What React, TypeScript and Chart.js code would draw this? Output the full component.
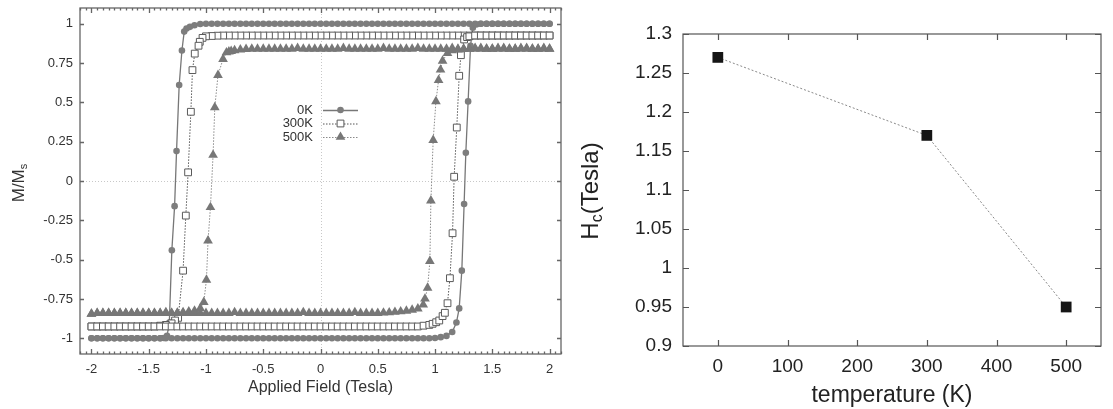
import React, { useEffect, useRef } from 'react';
import { Chart, registerables } from 'chart.js';

Chart.register(...registerables);

const FONT = '"Liberation Sans", Arial, Helvetica, sans-serif';

// ---------------- Left panel: hysteresis loops (Applied Field in Tesla vs M/Ms) ----------------
// 0 K, descending sweep (+2 T -> -2 T)
const desc0KH = [
  2, 1.95, 1.9, 1.85, 1.8, 1.75, 1.7, 1.65, 1.6, 1.55,
  1.5, 1.45, 1.4, 1.35, 1.3, 1.25, 1.2, 1.15, 1.1, 1.05,
  1, 0.95, 0.9, 0.85, 0.8, 0.75, 0.7, 0.65, 0.6, 0.55,
  0.5, 0.45, 0.4, 0.35, 0.3, 0.25, 0.2, 0.15, 0.1, 0.05,
  0, -0.05, -0.1, -0.15, -0.2, -0.25, -0.3, -0.35, -0.4, -0.45,
  -0.5, -0.55, -0.6, -0.65, -0.7, -0.75, -0.8, -0.85, -0.9, -0.95,
  -1, -1.05, -1.1, -1.14, -1.17, -1.19, -1.21, -1.234, -1.257, -1.274,
  -1.298, -1.32, -1.34, -1.37, -1.4, -1.45, -1.5, -1.55, -1.6, -1.65,
  -1.7, -1.75, -1.8, -1.85, -1.9, -1.95, -2,
];
const desc0KM = [
  1, 1, 1, 1, 1, 1, 1, 1, 1, 1,
  1, 1, 1, 1, 1, 1, 1, 1, 1, 1,
  1, 1, 1, 1, 1, 1, 1, 1, 1, 1,
  1, 1, 1, 1, 1, 1, 1, 1, 1, 1,
  1, 1, 1, 1, 1, 1, 1, 1, 1, 1,
  1, 1, 1, 1, 1, 1, 1, 1, 1, 1,
  1, 0.998, 0.99, 0.98, 0.97, 0.95, 0.83, 0.61, 0.19, -0.16,
  -0.44, -0.9, -0.985, -0.998, -1, -1, -1, -1, -1, -1,
  -1, -1, -1, -1, -1, -1, -1,
];
// 0 K, ascending sweep (-2 T -> +2 T)
const asc0KH = [
  -2, -1.95, -1.9, -1.85, -1.8, -1.75, -1.7, -1.65, -1.6, -1.55,
  -1.5, -1.45, -1.4, -1.35, -1.3, -1.25, -1.2, -1.15, -1.1, -1.05,
  -1, -0.95, -0.9, -0.85, -0.8, -0.75, -0.7, -0.65, -0.6, -0.55,
  -0.5, -0.45, -0.4, -0.35, -0.3, -0.25, -0.2, -0.15, -0.1, -0.05,
  0, 0.05, 0.1, 0.15, 0.2, 0.25, 0.3, 0.35, 0.4, 0.45,
  0.5, 0.55, 0.6, 0.65, 0.7, 0.75, 0.8, 0.85, 0.9, 0.95,
  1, 1.05, 1.1, 1.15, 1.187, 1.211, 1.234, 1.254, 1.269, 1.289,
  1.31, 1.33, 1.36, 1.4, 1.45, 1.5, 1.55, 1.6, 1.65, 1.7,
  1.75, 1.8, 1.85, 1.9, 1.95, 2,
];
const asc0KM = [
  -1, -1, -1, -1, -1, -1, -1, -1, -1, -1,
  -1, -1, -1, -1, -1, -1, -1, -1, -1, -1,
  -1, -1, -1, -1, -1, -1, -1, -1, -1, -1,
  -1, -1, -1, -1, -1, -1, -1, -1, -1, -1,
  -1, -1, -1, -1, -1, -1, -1, -1, -1, -1,
  -1, -1, -1, -1, -1, -1, -1, -1, -1, -1,
  -0.998, -0.993, -0.985, -0.96, -0.9, -0.81, -0.57, -0.146, 0.18, 0.506,
  0.86, 0.975, 0.995, 1, 1, 1, 1, 1, 1, 1,
  1, 1, 1, 1, 1, 1,
];

// 300 K
const desc300KH = [
  2, 1.95, 1.9, 1.85, 1.8, 1.75, 1.7, 1.65, 1.6, 1.55,
  1.5, 1.45, 1.4, 1.35, 1.3, 1.25, 1.2, 1.15, 1.1, 1.05,
  1, 0.95, 0.9, 0.85, 0.8, 0.75, 0.7, 0.65, 0.6, 0.55,
  0.5, 0.45, 0.4, 0.35, 0.3, 0.25, 0.2, 0.15, 0.1, 0.05,
  0, -0.05, -0.1, -0.15, -0.2, -0.25, -0.3, -0.35, -0.4, -0.45,
  -0.5, -0.55, -0.6, -0.65, -0.7, -0.75, -0.8, -0.85, -0.9, -0.95,
  -1, -1.03, -1.054, -1.065, -1.098, -1.118, -1.132, -1.156, -1.176, -1.2,
  -1.243, -1.27, -1.3, -1.35, -1.4, -1.45, -1.5, -1.55, -1.6, -1.65,
  -1.7, -1.75, -1.8, -1.85, -1.9, -1.95, -2,
];
const desc300KM = [
  0.925, 0.925, 0.925, 0.925, 0.925, 0.925, 0.925, 0.925, 0.925, 0.925,
  0.925, 0.925, 0.925, 0.925, 0.925, 0.925, 0.925, 0.925, 0.925, 0.925,
  0.925, 0.925, 0.925, 0.925, 0.925, 0.925, 0.925, 0.925, 0.925, 0.925,
  0.925, 0.925, 0.925, 0.925, 0.925, 0.925, 0.925, 0.925, 0.925, 0.925,
  0.925, 0.925, 0.925, 0.925, 0.925, 0.925, 0.925, 0.925, 0.925, 0.925,
  0.925, 0.925, 0.925, 0.925, 0.925, 0.925, 0.925, 0.925, 0.924, 0.922,
  0.92, 0.91, 0.885, 0.86, 0.81, 0.705, 0.44, 0.055, -0.22, -0.57,
  -0.87, -0.887, -0.905, -0.915, -0.92, -0.925, -0.925, -0.925, -0.925, -0.925,
  -0.925, -0.925, -0.925, -0.925, -0.925, -0.925, -0.925,
];
const asc300KH = [
  -2, -1.95, -1.9, -1.85, -1.8, -1.75, -1.7, -1.65, -1.6, -1.55,
  -1.5, -1.45, -1.4, -1.35, -1.3, -1.25, -1.2, -1.15, -1.1, -1.05,
  -1, -0.95, -0.9, -0.85, -0.8, -0.75, -0.7, -0.65, -0.6, -0.55,
  -0.5, -0.45, -0.4, -0.35, -0.3, -0.25, -0.2, -0.15, -0.1, -0.05,
  0, 0.05, 0.1, 0.15, 0.2, 0.25, 0.3, 0.35, 0.4, 0.45,
  0.5, 0.55, 0.6, 0.65, 0.7, 0.75, 0.8, 0.85, 0.9, 0.95,
  0.979, 1.01, 1.037, 1.066, 1.086, 1.109, 1.13, 1.153, 1.167, 1.19,
  1.211, 1.226, 1.254, 1.28, 1.3, 1.35, 1.4, 1.45, 1.5, 1.55,
  1.6, 1.65, 1.7, 1.75, 1.8, 1.85, 1.9, 1.95, 2,
];
const asc300KM = [
  -0.925, -0.925, -0.925, -0.925, -0.925, -0.925, -0.925, -0.925, -0.925, -0.925,
  -0.925, -0.925, -0.925, -0.925, -0.925, -0.925, -0.925, -0.925, -0.925, -0.925,
  -0.925, -0.925, -0.925, -0.925, -0.925, -0.925, -0.925, -0.925, -0.925, -0.925,
  -0.925, -0.925, -0.925, -0.925, -0.925, -0.925, -0.925, -0.925, -0.925, -0.925,
  -0.925, -0.925, -0.925, -0.925, -0.925, -0.925, -0.925, -0.925, -0.925, -0.925,
  -0.925, -0.925, -0.925, -0.925, -0.925, -0.925, -0.925, -0.925, -0.92, -0.915,
  -0.908, -0.898, -0.887, -0.859, -0.838, -0.777, -0.618, -0.332, 0.027, 0.34,
  0.669, 0.8, 0.9, 0.915, 0.92, 0.925, 0.925, 0.925, 0.925, 0.925,
  0.925, 0.925, 0.925, 0.925, 0.925, 0.925, 0.925, 0.925, 0.925,
];

// 500 K
const desc500KH = [
  2, 1.95, 1.9, 1.85, 1.8, 1.75, 1.7, 1.65, 1.6, 1.55,
  1.5, 1.45, 1.4, 1.35, 1.3, 1.25, 1.2, 1.15, 1.1, 1.05,
  1, 0.95, 0.9, 0.85, 0.8, 0.75, 0.7, 0.65, 0.6, 0.55,
  0.5, 0.45, 0.4, 0.35, 0.3, 0.25, 0.2, 0.15, 0.1, 0.05,
  0, -0.05, -0.1, -0.15, -0.2, -0.25, -0.3, -0.35, -0.4, -0.45,
  -0.5, -0.55, -0.6, -0.65, -0.7, -0.75, -0.78, -0.8, -0.821, -0.851,
  -0.895, -0.923, -0.938, -0.961, -0.982, -0.996, -1.019, -1.05, -1.1, -1.15,
  -1.2, -1.25, -1.3, -1.35, -1.4, -1.45, -1.5, -1.55, -1.6, -1.65,
  -1.7, -1.75, -1.8, -1.85, -1.9, -1.95, -2,
];
const desc500KM = [
  0.84, 0.845, 0.84, 0.84, 0.845, 0.84, 0.84, 0.84, 0.845, 0.84,
  0.84, 0.84, 0.845, 0.84, 0.84, 0.84, 0.84, 0.845, 0.84, 0.84,
  0.84, 0.84, 0.84, 0.845, 0.84, 0.84, 0.84, 0.84, 0.84, 0.845,
  0.84, 0.84, 0.84, 0.84, 0.84, 0.84, 0.845, 0.84, 0.84, 0.84,
  0.84, 0.84, 0.84, 0.84, 0.845, 0.84, 0.84, 0.84, 0.84, 0.84,
  0.84, 0.84, 0.84, 0.838, 0.835, 0.83, 0.826, 0.822, 0.817, 0.775,
  0.673, 0.468, 0.165, -0.167, -0.379, -0.629, -0.77, -0.81, -0.825, -0.83,
  -0.835, -0.838, -0.84, -0.84, -0.84, -0.84, -0.84, -0.84, -0.84, -0.84,
  -0.84, -0.84, -0.84, -0.84, -0.84, -0.84, -0.845,
];
const asc500KH = [
  -2, -1.95, -1.9, -1.85, -1.8, -1.75, -1.7, -1.65, -1.6, -1.55,
  -1.5, -1.45, -1.4, -1.35, -1.3, -1.25, -1.2, -1.15, -1.1, -1.05,
  -1, -0.95, -0.9, -0.85, -0.8, -0.75, -0.7, -0.65, -0.6, -0.55,
  -0.5, -0.45, -0.4, -0.35, -0.3, -0.25, -0.2, -0.15, -0.1, -0.05,
  0, 0.05, 0.1, 0.15, 0.2, 0.25, 0.3, 0.35, 0.4, 0.45,
  0.5, 0.55, 0.6, 0.65, 0.7, 0.75, 0.8, 0.85, 0.897, 0.912,
  0.935, 0.955, 0.964, 0.984, 1.008, 1.031, 1.048, 1.066, 1.109, 1.15,
  1.2, 1.25, 1.3, 1.35, 1.4, 1.45, 1.5, 1.55, 1.6, 1.65,
  1.7, 1.75, 1.8, 1.85, 1.9, 1.95, 2,
];
const asc500KM = [
  -0.845, -0.84, -0.84, -0.84, -0.84, -0.84, -0.84, -0.84, -0.84, -0.84,
  -0.84, -0.84, -0.84, -0.835, -0.84, -0.84, -0.84, -0.84, -0.84, -0.84,
  -0.84, -0.84, -0.84, -0.84, -0.84, -0.835, -0.84, -0.84, -0.84, -0.84,
  -0.84, -0.84, -0.84, -0.84, -0.84, -0.84, -0.84, -0.835, -0.84, -0.84,
  -0.84, -0.84, -0.84, -0.84, -0.84, -0.84, -0.835, -0.84, -0.84, -0.84,
  -0.84, -0.838, -0.836, -0.833, -0.83, -0.826, -0.82, -0.812, -0.787, -0.749,
  -0.68, -0.51, -0.125, 0.26, 0.506, 0.641, 0.707, 0.764, 0.813, 0.83,
  0.835, 0.838, 0.84, 0.845, 0.84, 0.84, 0.84, 0.845, 0.84, 0.84,
  0.84, 0.845, 0.84, 0.84, 0.84, 0.84, 0.84,
];

const loopLabels = ['0K', '300K', '500K'];
const leftXTicks = [-2, -1.5, -1, -0.5, 0, 0.5, 1, 1.5, 2];
const leftYTicks = [-1, -0.75, -0.5, -0.25, 0, 0.25, 0.5, 0.75, 1];

// ---------------- Right panel: coercive field vs temperature ----------------
const temperatureK = [0, 300, 500];
const coerciveT = [1.27, 1.17, 0.95];
const rightXTicks = [0, 100, 200, 300, 400, 500];
const rightYTicks = [0.9, 0.95, 1, 1.05, 1.1, 1.15, 1.2, 1.25, 1.3];

const toPoints = (hs: number[], ms: number[]) => hs.map((h, i) => ({ x: h, y: ms[i] }));

function drawMarker(ctx: CanvasRenderingContext2D, style: string, x: number, y: number, r: number, fill: string, stroke: string, bw: number) {
  ctx.save();
  ctx.beginPath();
  if (style === 'circle') {
    ctx.arc(x, y, r, 0, Math.PI * 2);
  } else if (style === 'rect') {
    const s = r * Math.SQRT1_2;
    ctx.rect(x - s, y - s, 2 * s, 2 * s);
  } else if (style === 'triangle') {
    const a = -Math.PI / 2;
    for (let k = 0; k < 3; k++) {
      const ang = a + (k * 2 * Math.PI) / 3;
      const px = x + Math.cos(ang) * r;
      const py = y + Math.sin(ang) * r;
      if (k === 0) ctx.moveTo(px, py);
      else ctx.lineTo(px, py);
    }
    ctx.closePath();
  }
  ctx.fillStyle = fill;
  ctx.fill();
  if (bw > 0) {
    ctx.lineWidth = bw;
    ctx.strokeStyle = stroke;
    ctx.stroke();
  }
  ctx.restore();
}

function drawRotatedSubText(ctx: CanvasRenderingContext2D, x: number, y: number, main: string, sub: string, rest: string, size: number, subSize: number, color: string) {
  ctx.save();
  ctx.translate(x, y);
  ctx.rotate(-Math.PI / 2);
  ctx.fillStyle = color;
  ctx.textBaseline = 'middle';
  ctx.textAlign = 'left';
  ctx.font = `${size}px ${FONT}`;
  const w1 = ctx.measureText(main).width;
  const w3 = ctx.measureText(rest).width;
  ctx.font = `${subSize}px ${FONT}`;
  const w2 = ctx.measureText(sub).width;
  const total = w1 + w2 + w3;
  let cx = -total / 2;
  ctx.font = `${size}px ${FONT}`;
  ctx.fillText(main, cx, 0);
  cx += w1;
  ctx.font = `${subSize}px ${FONT}`;
  ctx.fillText(sub, cx, size * 0.28);
  cx += w2;
  ctx.font = `${size}px ${FONT}`;
  ctx.fillText(rest, cx, 0);
  ctx.restore();
}

type DecoCfg = {
  frameColor: string;
  frameWidth: number;
  xMajor: number[];
  yMajor: number[];
  xMinorStep?: number;
  xMinorRange?: [number, number];
  majorLen: number;
  yLen: number;
  minorLen: number;
  zeroLines: boolean;
};

function makeDecoPlugin(cfg: DecoCfg) {
  return {
    id: 'deco',
    beforeDatasetsDraw(chart: any) {
      if (!cfg.zeroLines) return;
      const { ctx, chartArea: a, scales } = chart;
      const x0 = Math.round(scales.x.getPixelForValue(0)) + 0.5;
      const y0 = Math.round(scales.y.getPixelForValue(0)) + 0.5;
      ctx.save();
      ctx.strokeStyle = '#c8c8c8';
      ctx.lineWidth = 1;
      ctx.setLineDash([1, 2]);
      ctx.beginPath();
      ctx.moveTo(x0, a.top);
      ctx.lineTo(x0, a.bottom);
      ctx.moveTo(a.left, y0);
      ctx.lineTo(a.right, y0);
      ctx.stroke();
      ctx.restore();
    },
    afterDatasetsDraw(chart: any) {
      const { ctx, chartArea: a, scales } = chart;
      ctx.save();
      ctx.strokeStyle = cfg.frameColor;
      ctx.lineWidth = cfg.frameWidth;
      ctx.setLineDash([]);
      ctx.beginPath();
      if (cfg.xMinorStep && cfg.xMinorRange) {
        const [lo, hi] = cfg.xMinorRange;
        const n = Math.round((hi - lo) / cfg.xMinorStep);
        for (let k = 0; k <= n; k++) {
          const v = lo + k * cfg.xMinorStep;
          const px = Math.round(scales.x.getPixelForValue(v)) + 0.5;
          ctx.moveTo(px, a.bottom);
          ctx.lineTo(px, a.bottom - cfg.minorLen);
          ctx.moveTo(px, a.top);
          ctx.lineTo(px, a.top + cfg.minorLen);
        }
      }
      for (const v of cfg.xMajor) {
        const px = Math.round(scales.x.getPixelForValue(v)) + 0.5;
        ctx.moveTo(px, a.bottom);
        ctx.lineTo(px, a.bottom - cfg.majorLen);
        ctx.moveTo(px, a.top);
        ctx.lineTo(px, a.top + cfg.majorLen);
      }
      for (const v of cfg.yMajor) {
        const py = Math.round(scales.y.getPixelForValue(v)) + 0.5;
        ctx.moveTo(a.left, py);
        ctx.lineTo(a.left + cfg.yLen, py);
        ctx.moveTo(a.right, py);
        ctx.lineTo(a.right - cfg.yLen, py);
      }
      ctx.stroke();
      ctx.lineWidth = cfg.frameWidth;
      ctx.strokeRect(a.left, a.top, a.right - a.left, a.bottom - a.top);
      ctx.restore();
    },
  };
}

const leftTextPlugin = {
  id: 'leftText',
  afterDraw(chart: any) {
    const { ctx, chartArea: a } = chart;
    ctx.save();
    ctx.fillStyle = '#333';
    ctx.font = `16px ${FONT}`;
    ctx.textAlign = 'center';
    ctx.textBaseline = 'middle';
    ctx.fillText('Applied Field (Tesla)', (a.left + a.right) / 2, 388);
    ctx.restore();
    drawRotatedSubText(ctx, 19, 183, 'M/M', 's', '', 17, 11, '#333');

    // legend
    const ds = chart.data.datasets;
    ctx.save();
    ctx.font = `13px ${FONT}`;
    ctx.textAlign = 'right';
    ctx.textBaseline = 'middle';
    for (let i = 0; i < ds.length; i++) {
      const d = ds[i];
      const y = 110 + i * 13.5;
      ctx.fillStyle = '#333';
      ctx.fillText(d.label, 313, y);
      ctx.save();
      ctx.strokeStyle = d.borderColor;
      ctx.lineWidth = d.borderWidth;
      ctx.setLineDash(d.borderDash || []);
      ctx.beginPath();
      ctx.moveTo(323, y + 0.5);
      ctx.lineTo(358, y + 0.5);
      ctx.stroke();
      ctx.restore();
      drawMarker(ctx, d.pointStyle, 340.5, y, d.pointRadius, d.pointBackgroundColor, d.pointBorderColor, d.pointBorderWidth);
    }
    ctx.restore();
  },
};

const rightTextPlugin = {
  id: 'rightText',
  afterDraw(chart: any) {
    const { ctx, chartArea: a } = chart;
    ctx.save();
    ctx.fillStyle = '#222';
    ctx.font = `23px ${FONT}`;
    ctx.textAlign = 'center';
    ctx.textBaseline = 'middle';
    ctx.fillText('temperature (K)', (a.left + a.right) / 2, 396);
    ctx.restore();
    drawRotatedSubText(ctx, 11, 191, 'H', 'c', '(Tesla)', 24, 16, '#222');
  },
};

function fixScale(prop: 'width' | 'height', size: number) {
  return (s: any) => {
    s[prop] = size;
    s.paddingTop = 0;
    s.paddingBottom = 0;
    s.paddingLeft = 0;
    s.paddingRight = 0;
  };
}

export default function App() {
  const leftRef = useRef<HTMLCanvasElement | null>(null);
  const rightRef = useRef<HTMLCanvasElement | null>(null);

  useEffect(() => {
    const leftCanvas = leftRef.current;
    const rightCanvas = rightRef.current;
    if (!leftCanvas || !rightCanvas) return;

    const loopData = [
      toPoints([...desc0KH, ...asc0KH], [...desc0KM, ...asc0KM]),
      toPoints([...desc300KH, ...asc300KH], [...desc300KM, ...asc300KM]),
      toPoints([...desc500KH, ...asc500KH], [...desc500KM, ...asc500KM]),
    ];

    const left = new Chart(leftCanvas, {
      type: 'scatter',
      data: {
        datasets: [
          {
            label: loopLabels[0],
            data: loopData[0],
            showLine: true,
            borderColor: '#777',
            borderWidth: 1.3,
            pointStyle: 'circle',
            pointRadius: 3.3,
            pointBackgroundColor: '#7d7d7d',
            pointBorderColor: '#7d7d7d',
            pointBorderWidth: 0,
            order: 3,
          },
          {
            label: loopLabels[1],
            data: loopData[1],
            showLine: true,
            borderColor: '#555',
            borderWidth: 1,
            borderDash: [1.5, 1.5],
            pointStyle: 'rect',
            pointRadius: 4.8,
            pointBackgroundColor: '#ffffff',
            pointBorderColor: '#5a5a5a',
            pointBorderWidth: 1,
            order: 2,
          },
          {
            label: loopLabels[2],
            data: loopData[2],
            showLine: true,
            borderColor: '#8a8a8a',
            borderWidth: 1,
            borderDash: [1.5, 1.5],
            pointStyle: 'triangle',
            pointRadius: 5.6,
            pointBackgroundColor: '#777',
            pointBorderColor: '#777',
            pointBorderWidth: 0,
            order: 1,
          },
        ] as any,
      },
      options: {
        animation: false,
        responsive: false,
        devicePixelRatio: 1,
        layout: { padding: { left: 0, top: 8, right: 19, bottom: 0 } },
        plugins: { legend: { display: false }, tooltip: { enabled: false } },
        scales: {
          x: {
            type: 'linear',
            min: -2.1,
            max: 2.1,
            grid: { display: false, drawTicks: false },
            border: { display: false },
            afterBuildTicks: (s: any) => {
              s.ticks = leftXTicks.map((v) => ({ value: v }));
            },
            afterFit: fixScale('height', 55),
            ticks: {
              callback: (v: any) => String(v),
              font: { family: FONT, size: 13 },
              color: '#333',
              padding: 8,
              maxRotation: 0,
              autoSkip: false,
            },
          },
          y: {
            type: 'linear',
            min: -1.1,
            max: 1.1,
            grid: { display: false, drawTicks: false },
            border: { display: false },
            afterBuildTicks: (s: any) => {
              s.ticks = leftYTicks.map((v) => ({ value: v }));
            },
            afterFit: fixScale('width', 80),
            ticks: {
              callback: (v: any) => String(v),
              font: { family: FONT, size: 13 },
              color: '#333',
              padding: 7,
              autoSkip: false,
            },
          },
        },
      } as any,
      plugins: [
        makeDecoPlugin({
          frameColor: '#666',
          frameWidth: 1.3,
          xMajor: leftXTicks,
          yMajor: leftYTicks,
          xMinorStep: 0.05,
          xMinorRange: [-2.1, 2.1],
          majorLen: 5,
          yLen: 4,
          minorLen: 2.5,
          zeroLines: true,
        }),
        leftTextPlugin,
      ] as any,
    });

    const right = new Chart(rightCanvas, {
      type: 'scatter',
      data: {
        datasets: [
          {
            label: 'Hc',
            data: temperatureK.map((t, i) => ({ x: t, y: coerciveT[i] })),
            showLine: true,
            borderColor: '#888',
            borderWidth: 1,
            borderDash: [2, 2],
            pointStyle: 'rect',
            pointRadius: 7.6,
            pointBackgroundColor: '#151515',
            pointBorderColor: '#151515',
            pointBorderWidth: 0,
          },
        ] as any,
      },
      options: {
        animation: false,
        responsive: false,
        devicePixelRatio: 1,
        layout: { padding: { left: 0, top: 34, right: 12, bottom: 0 } },
        plugins: { legend: { display: false }, tooltip: { enabled: false } },
        scales: {
          x: {
            type: 'linear',
            min: -50,
            max: 550,
            grid: { display: false, drawTicks: false },
            border: { display: false },
            afterBuildTicks: (s: any) => {
              s.ticks = rightXTicks.map((v) => ({ value: v }));
            },
            afterFit: fixScale('height', 63),
            ticks: {
              callback: (v: any) => String(v),
              font: { family: FONT, size: 19 },
              color: '#222',
              padding: 9,
              maxRotation: 0,
              autoSkip: false,
            },
          },
          y: {
            type: 'linear',
            min: 0.9,
            max: 1.3,
            grid: { display: false, drawTicks: false },
            border: { display: false },
            afterBuildTicks: (s: any) => {
              s.ticks = rightYTicks.map((v) => ({ value: v }));
            },
            afterFit: fixScale('width', 103),
            ticks: {
              callback: (v: any) => String(v),
              font: { family: FONT, size: 19 },
              color: '#222',
              padding: 11,
              autoSkip: false,
            },
          },
        },
      } as any,
      plugins: [
        makeDecoPlugin({
          frameColor: '#555',
          frameWidth: 1.2,
          xMajor: rightXTicks,
          yMajor: rightYTicks,
          majorLen: 6,
          yLen: 6,
          minorLen: 0,
          zeroLines: false,
        }),
        rightTextPlugin,
      ] as any,
    });

    return () => {
      left.destroy();
      right.destroy();
    };
  }, []);

  return (
    <div style={{ position: 'absolute', left: 0, top: 0, width: 1113, height: 409, background: '#fff', overflow: 'hidden' }}>
      <canvas ref={leftRef} width={580} height={409} style={{ position: 'absolute', left: 0, top: 0, width: 580, height: 409 }} />
      <canvas ref={rightRef} width={533} height={409} style={{ position: 'absolute', left: 580, top: 0, width: 533, height: 409 }} />
    </div>
  );
}
